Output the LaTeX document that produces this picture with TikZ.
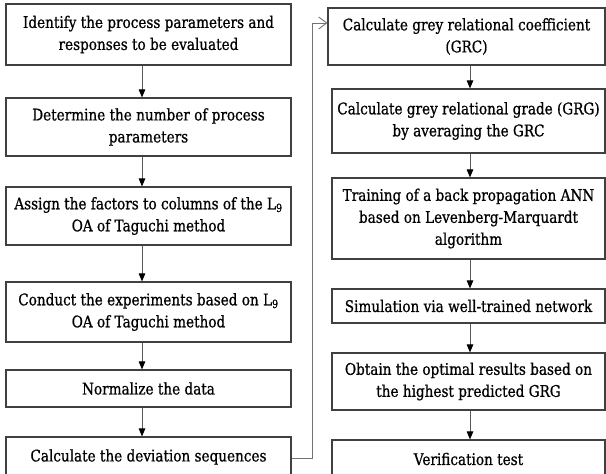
\documentclass[tikz,border=0pt]{standalone}
\usepackage{fontspec}
\setmainfont{DejaVu Serif}[FakeStretch=0.85,FakeBold=0.8]
\usetikzlibrary{arrows.meta,calc}
\begin{document}
\begin{tikzpicture}[x=1pt,y=-1pt,
  box/.style={draw=black!75,line width=1.1pt,inner sep=0pt,align=center,
    font=\fontsize{16}{22}\selectfont},
  arr/.style={draw=black!65,line width=0.9pt,-{Triangle[length=8pt,width=6.5pt,fill=black,color=black]}},
  loopline/.style={draw=black!55,line width=1pt,-{Straight Barb[length=8pt,width=12pt,line width=0.9pt]}}]
\useasboundingbox (0,0) rectangle (606,474);
% left column
\node[box,minimum width=285pt,minimum height=61pt] (b1) at (148.5,34.5) {Identify the process parameters and\\responses to be evaluated};
\node[box,minimum width=285pt,minimum height=58pt] (b2) at (148.5,127) {Determine the number of process\\parameters};
\node[box,minimum width=285pt,minimum height=58pt] (b3) at (148.5,216) {Assign the factors to columns of the L\textsubscript{9}\\OA of Taguchi method};
\node[box,minimum width=285pt,minimum height=60pt] (b4) at (148.5,312) {Conduct the experiments based on L\textsubscript{9}\\OA of Taguchi method};
\node[box,minimum width=285pt,minimum height=37pt] (b5) at (148.5,388.5) {Normalize the data};
\node[box,minimum width=285pt,minimum height=40pt] (b6) at (148.5,457) {Calculate the deviation sequences};
% right column
\node[box,minimum width=277pt,minimum height=57pt] (b7) at (466.5,36.5) {Calculate grey relational coefficient\\(GRC)};
\node[box,minimum width=273pt,minimum height=64pt] (b8) at (468.5,121) {Calculate grey relational grade (GRG)\\by averaging the GRC};
\node[box,minimum width=273pt,minimum height=81pt] (b9) at (468.5,218.5) {Training of a back propagation ANN\\based on Levenberg-Marquardt\\algorithm};
\node[box,minimum width=273pt,minimum height=34pt] (b10) at (468.5,306) {Simulation via well-trained network};
\node[box,minimum width=273pt,minimum height=57pt] (b11) at (468.5,381.5) {Obtain the optimal results based on\\the highest predicted GRG};
\node[box,minimum width=273pt,minimum height=38pt] (b12) at (468.5,459) {Verification test};
% arrow columns
\coordinate (lx) at (142,0);
\coordinate (rx) at (470,0);
\draw[arr] (b1.south -| lx) -- (b2.north -| lx);
\draw[arr] (b2.south -| lx) -- (b3.north -| lx);
\draw[arr] (b3.south -| lx) -- (b4.north -| lx);
\draw[arr] (b4.south -| lx) -- (b5.north -| lx);
\draw[arr] (b5.south -| lx) -- (b6.north -| lx);
\draw[arr] (b7.south -| rx) -- (b8.north -| rx);
\draw[arr] (b8.south -| rx) -- (b9.north -| rx);
\draw[arr] (b9.south -| rx) -- (b10.north -| rx);
\draw[arr] (b10.south -| rx) -- (b11.north -| rx);
\draw[arr] (b11.south -| rx) -- (b12.north -| rx);
% loop connector
\coordinate (ly) at (0,458);
\coordinate (ty) at (0,23);
\coordinate (vx) at (312,0);
\draw[loopline] (b6.east |- ly) -- (vx |- ly) -- (vx |- ty) -- (b7.west |- ty);
\end{tikzpicture}
\end{document}
